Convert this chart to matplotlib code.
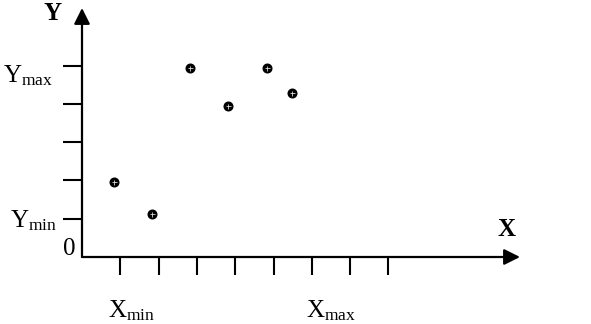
"""Sketch of a scatter on hand-drawn style axes with min/max labels."""

import matplotlib.pyplot as plt

plt.rcParams["font.family"] = ["Liberation Serif", "DejaVu Serif"]
plt.rcParams["mathtext.fontset"] = "custom"
plt.rcParams["mathtext.rm"] = "Liberation Serif"
plt.rcParams["mathtext.it"] = "Liberation Serif:italic"
plt.rcParams["mathtext.bf"] = "Liberation Serif:bold"

# data (grid units)
x_vals = [0.84, 1.83, 2.82, 3.82, 4.82, 5.47]
y_vals = [1.95, 1.11, 4.94, 3.95, 4.94, 4.27]
x_ticks = [1, 2, 3, 4, 5, 6, 7, 8]
y_ticks = [1, 2, 3, 4, 5]

W, H = 591, 324
unit = 38.3
x0, y0 = 82, 257      # origin in pixels
x_end, y_end = 520, 8

fig = plt.figure(figsize=(W / 100, H / 100), dpi=100)
ax = fig.add_axes([x0 / W, (H - y0) / H, (x_end - x0) / W, (y0 - y_end) / H])
ax.set_xlim(0, (x_end - x0) / unit)
ax.set_ylim(0, (y0 - y_end) / unit)

for side in ax.spines.values():
    side.set_visible(False)

arrow = dict(arrowstyle="-|>", lw=1.6, color="k", mutation_scale=24,
             shrinkA=0, shrinkB=0)
ax.annotate("", xy=(1, 0), xytext=(0, 0), xycoords="axes fraction",
            arrowprops=arrow, annotation_clip=False)
ax.annotate("", xy=(0, 1), xytext=(0, 0), xycoords="axes fraction",
            arrowprops=arrow, annotation_clip=False)

ax.set_xticks(x_ticks)
ax.set_yticks(y_ticks)
ax.set_xticklabels([])
ax.set_yticklabels([])
ax.tick_params(axis="x", direction="out", length=13, width=1.5)
ax.tick_params(axis="y", direction="out", length=13.7, width=1.5)

ax.plot(x_vals, y_vals, "o", color="k", ms=6.2, clip_on=False)
ax.plot(x_vals, y_vals, "+", color="0.85", ms=3.6, mew=0.6, clip_on=False)

fs = 18
lab = dict(textcoords="offset pixels", fontsize=fs, annotation_clip=False)
ax.annotate(r"$\mathrm{Y_{max}}$", xy=(0, y_ticks[-1]), xytext=(-29, -10),
            ha="right", va="center", **lab)
ax.annotate(r"$\mathrm{Y_{min}}$", xy=(0, y_ticks[0]), xytext=(-25, -2),
            ha="right", va="center", **lab)
ax.annotate(r"$\mathrm{X_{min}}$", xy=(x_ticks[0], 0), xytext=(-12, -41),
            ha="left", va="top", **lab)
ax.annotate(r"$\mathrm{X_{max}}$", xy=(x_ticks[5], 0), xytext=(-6, -41),
            ha="left", va="top", **lab)
ax.annotate("0", xy=(0, 0), xytext=(-13, 8), ha="center", va="center", **lab)

ax.annotate("Y", xy=(0, 1), xycoords="axes fraction", xytext=(-29, -6),
            textcoords="offset pixels", ha="center", va="center",
            fontsize=18, fontweight="bold", annotation_clip=False)
ax.annotate("X", xy=(1, 0), xycoords="axes fraction", xytext=(-14, 27),
            textcoords="offset pixels", ha="center", va="center",
            fontsize=18, fontweight="bold", annotation_clip=False)

fig.savefig("out.png", dpi=100)
plt.close(fig)
